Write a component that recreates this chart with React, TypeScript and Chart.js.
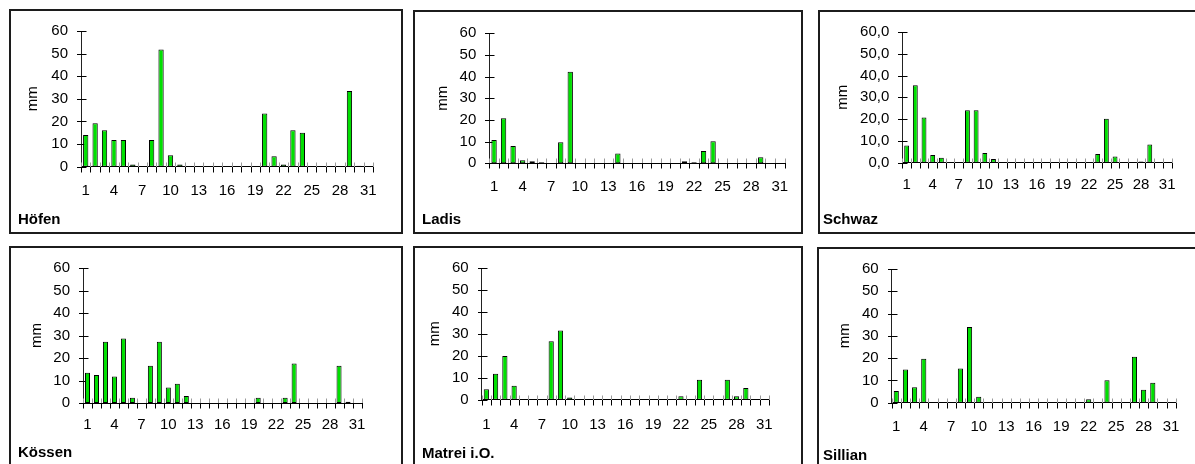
import React, { useEffect, useRef } from "react";
import { Chart, registerables } from "chart.js";

Chart.register(...registerables);

const FONT = "'Liberation Sans', Arial, Helvetica, sans-serif";

// ---------- data ----------
const days = ["1","2","3","4","5","6","7","8","9","10","11","12","13","14","15","16","17","18","19","20","21","22","23","24","25","26","27","28","29","30","31"];
const yTickValues = [0, 10, 20, 30, 40, 50, 60];

const hoefen = [14.0, 19.2, 16.1, 11.8, 11.8, 1.0, 0, 11.8, 51.8, 5.1, 1.0, 0, 0, 0, 0, 0, 0, 0, 0, 23.5, 4.6, 1.0, 16.1, 15.0, 0, 0, 0, 0, 33.5, 0.4, 0];
const ladis = [10.8, 20.8, 8.0, 1.4, 0.9, 0.5, 0, 9.7, 42.3, 0, 0, 0, 0, 4.5, 0, 0, 0, 0, 0, 0, 0.9, 0.5, 5.7, 10.2, 0, 0, 0, 0, 2.8, 0, 0];
const schwaz = [7.9, 35.5, 20.8, 3.5, 2.3, 0, 0, 24.1, 24.1, 4.5, 1.7, 0, 0, 0, 0, 0, 0, 0, 0, 0, 0, 0, 4.0, 20.2, 2.9, 0, 0, 0.6, 8.4, 0, 0];
const koessen = [13.4, 12.4, 27.2, 11.8, 28.7, 2.3, 0, 16.6, 27.2, 6.9, 8.6, 3.1, 0, 0, 0, 0, 0, 0, 0, 2.3, 0, 0, 2.3, 17.6, 0, 0, 0, 0, 16.6, 0.6, 0];
const matrei = [4.8, 11.8, 19.9, 6.3, 0, 0, 0, 26.6, 31.5, 1.0, 0, 0, 0, 0, 0, 0, 0, 0, 0, 0, 0, 1.6, 0, 9.1, 0, 0, 9.1, 1.6, 5.3, 0, 0];
const sillian = [5.3, 14.9, 6.9, 19.7, 0, 0, 0, 15.3, 34.0, 2.7, 0, 0, 0, 0, 0, 0, 0, 0, 0, 0, 0, 1.5, 0, 10.1, 0, 0, 20.6, 5.8, 9.0, 0, 0];

const stationNames = ["Höfen", "Ladis", "Schwaz", "Kössen", "Matrei i.O.", "Sillian"];
const stationData = [hoefen, ladis, schwaz, koessen, matrei, sillian];
const decimalTicks = [false, false, true, false, false, false];

// ---------- layout (page coordinates) ----------
const W = 1195;
const H = 464;
type Layout = {
  box: [number, number, number, number];
  axisX: number; xEnd: number; yTop: number; yZero: number;
  labelY: number; mmX: number; nameX: number; nameY: number;
};
const layouts: Layout[] = [
  { box: [9, 9, 403, 234], axisX: 81, xEnd: 373, yTop: 22.7, yZero: 166.7, labelY: 191, mmX: 33, nameX: 18, nameY: 219 },
  { box: [413, 10, 803, 234], axisX: 489.3, xEnd: 790, yTop: 33.3, yZero: 163.3, labelY: 187, mmX: 443, nameX: 422, nameY: 219 },
  { box: [818, 10, 1210, 234], axisX: 902.3, xEnd: 1171.5, yTop: 24.3, yZero: 162.7, labelY: 185, mmX: 843, nameX: 823, nameY: 219 },
  { box: [9, 246, 403, 480], axisX: 83, xEnd: 361.5, yTop: 261, yZero: 403, labelY: 425, mmX: 37, nameX: 18, nameY: 452 },
  { box: [413, 246, 803, 480], axisX: 481.7, xEnd: 769, yTop: 261, yZero: 399.7, labelY: 424.7, mmX: 435, nameX: 422, nameY: 452.5 },
  { box: [817, 247, 1210, 480], axisX: 891.7, xEnd: 1180, yTop: 260.3, yZero: 402.7, labelY: 427, mmX: 845, nameX: 823, nameY: 455 },
];

const GREEN = "#00e000";
const FS = 15;
const LH = FS * 1.2;

const crossTicks = {
  id: "crossTicks",
  beforeDatasetsDraw(chart: any) {
    const { ctx, scales } = chart;
    const x = scales.x;
    const y = scales.y;
    ctx.save();
    ctx.lineWidth = 1;
    ctx.strokeStyle = "#000";
    const ax = Math.round(x.left) + 0.5;
    y.ticks.forEach((t: any) => {
      const py = Math.round(y.getPixelForValue(t.value)) + 0.5;
      ctx.beginPath();
      ctx.moveTo(ax - 4.5, py);
      ctx.lineTo(ax + 5, py);
      ctx.stroke();
    });
    const n = x.getLabels().length;
    const step = (x.right - x.left) / n;
    const y0 = Math.round(y.getPixelForValue(0));
    for (let i = 0; i <= n; i++) {
      const px = Math.round(x.left + i * step) + 0.5;
      ctx.strokeStyle = "#9a9a9a";
      ctx.beginPath();
      ctx.moveTo(px, y0 - 4.5);
      ctx.lineTo(px, y0);
      ctx.stroke();
      ctx.strokeStyle = "#000";
      ctx.beginPath();
      ctx.moveTo(px, y0);
      ctx.lineTo(px, y0 + 5.5);
      ctx.stroke();
    }
    ctx.restore();
  },
};

function Panel({ idx }: { idx: number }) {
  const ref = useRef<HTMLCanvasElement>(null);
  const L = layouts[idx];
  const left = L.box[0];
  const top = L.box[1];
  const width = Math.min(L.box[2], W) - left;
  const height = Math.min(L.box[3], H) - top;

  useEffect(() => {
    if (!ref.current) return;
    const values = stationData[idx].map((v) => (v === 0 ? null : v));
    const yW = L.axisX - left;
    const padTop = L.yTop - top;
    const padRight = left + width - L.xEnd;
    const xH = top + height - L.yZero;
    const xPad = L.labelY - L.yZero - LH / 2;
    const titlePad = L.mmX - left - LH / 2;
    const dec = decimalTicks[idx];

    const chart = new Chart(ref.current, {
      type: "bar",
      data: {
        labels: days,
        datasets: [
          {
            data: values as any,
            backgroundColor: GREEN,
            borderColor: "#000",
            borderWidth: 1,
            borderSkipped: false,
            barPercentage: 0.56,
            categoryPercentage: 1,
          },
        ],
      },
      options: {
        animation: false,
        responsive: false,
        maintainAspectRatio: false,
        devicePixelRatio: 1,
        layout: { padding: { left: 0, top: padTop, right: padRight, bottom: 0 } },
        plugins: { legend: { display: false }, tooltip: { enabled: false }, title: { display: false } },
        scales: {
          x: {
            type: "category",
            offset: true,
            grid: { display: false, drawTicks: false },
            border: { display: true, color: "#000", width: 1 },
            ticks: {
              autoSkip: false,
              maxRotation: 0,
              minRotation: 0,
              padding: xPad,
              color: "#000",
              font: { family: FONT, size: FS },
              callback: function (this: any, val: any, i: number) {
                return i % 3 === 0 ? this.getLabelForValue(val) : "";
              },
            },
            afterFit: (s: any) => {
              s.height = xH;
            },
          },
          y: {
            min: 0,
            max: 60,
            grid: { display: false, drawTicks: false },
            border: { display: true, color: "#222", width: 1 },
            afterBuildTicks: (s: any) => {
              s.ticks = yTickValues.map((v) => ({ value: v }));
            },
            ticks: {
              padding: 13,
              color: "#000",
              font: { family: FONT, size: FS },
              callback: (v: any) => (dec ? Number(v).toFixed(1).replace(".", ",") : String(v)),
            },
            title: {
              display: true,
              text: "mm",
              color: "#000",
              font: { family: FONT, size: FS },
              padding: { top: titlePad, bottom: 0 },
            },
            afterFit: (s: any) => {
              s.width = yW;
            },
          },
        },
      },
      plugins: [crossTicks],
    });
    return () => chart.destroy();
  }, [idx]);

  return (
    <>
      <div
        style={{
          position: "absolute",
          left,
          top,
          width: L.box[2] - left,
          height: L.box[3] - top,
          border: "2px solid #1c1c1c",
          boxSizing: "border-box",
        }}
      />
      <canvas
        ref={ref}
        width={width}
        height={height}
        style={{ position: "absolute", left, top, width, height }}
      />
      <span
        style={{
          position: "absolute",
          left: L.nameX,
          top: L.nameY - LH / 2,
          fontFamily: FONT,
          fontWeight: "bold",
          fontSize: FS,
          lineHeight: `${LH}px`,
          color: "#000",
          whiteSpace: "nowrap",
        }}
      >
        {stationNames[idx]}
      </span>
    </>
  );
}

export default function App() {
  return (
    <div
      style={{
        position: "fixed",
        left: 0,
        top: 0,
        width: W,
        height: H,
        overflow: "hidden",
        background: "#fff",
      }}
    >
      {layouts.map((_, i) => (
        <Panel key={i} idx={i} />
      ))}
    </div>
  );
}
